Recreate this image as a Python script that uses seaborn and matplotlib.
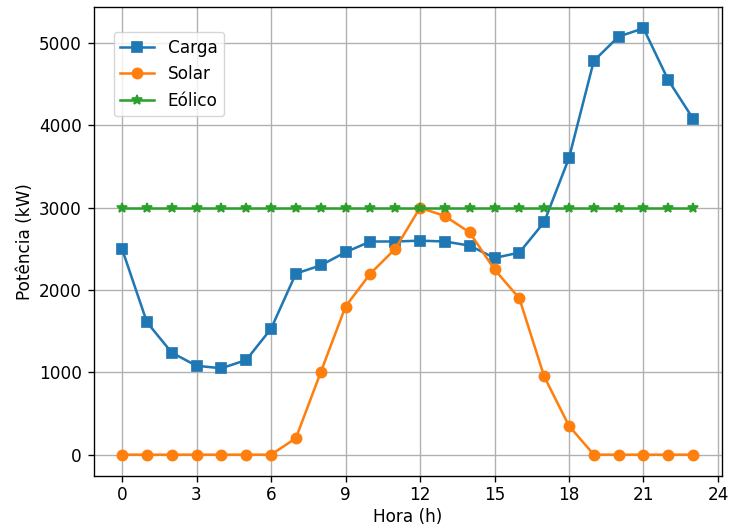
import matplotlib
matplotlib.use("Agg")
import matplotlib.pyplot as plt
import seaborn as sns
import numpy as np

horas = list(range(24))
carga = [2500, 1610, 1240, 1080, 1050, 1150, 1530, 2200, 2300, 2460, 2590, 2590,
         2600, 2590, 2540, 2390, 2455, 2825, 3605, 4785, 5080, 5180, 4550, 4080]
solar = [0, 0, 0, 0, 0, 0, 0, 200, 1000, 1800, 2200, 2500,
         3000, 2900, 2700, 2250, 1900, 950, 350, 0, 0, 0, 0, 0]
eolico = [3000] * 24
xticks = [0, 3, 6, 9, 12, 15, 18, 21, 24]

s = 1.22
fs = 10 * s
plt.rcParams.update({
    'xtick.major.size': 3.5 * s, 'ytick.major.size': 3.5 * s,
    'xtick.major.width': 0.8 * s, 'ytick.major.width': 0.8 * s,
    'axes.linewidth': 0.8 * s,
    'xtick.major.pad': 3.0, 'ytick.major.pad': 3.5 * s,
    'axes.labelpad': 3.0,
})

fig, ax = plt.subplots(figsize=(7.29, 5.29), dpi=100)
fig.subplots_adjust(left=93.5 / 729, right=721.7 / 729, top=1 - 7 / 529, bottom=1 - 476 / 529)

common = dict(markersize=6 * s, markeredgewidth=1.0 * s, linewidth=1.5 * s, ax=ax)
sns.lineplot(x=horas, y=carga, marker='s', color='#1f77b4', markeredgecolor='#1f77b4',
             label='Carga', **common)
sns.lineplot(x=horas, y=solar, marker='o', color='#ff7f0e', markeredgecolor='#ff7f0e',
             label='Solar', **common)
sns.lineplot(x=horas, y=eolico, marker='*', color='#2ca02c', markeredgecolor='#2ca02c',
             label='Eólico', **common)

ax.set_xticks(xticks)
ax.set_xlabel('Hora (h)', fontsize=fs)
ax.set_ylabel('Potência (kW)', fontsize=fs)
ax.tick_params(labelsize=fs)
ax.grid(True, color='#b0b0b0', linewidth=0.8 * s)
ax.set_axisbelow(True)
ax.legend(loc='upper left', fontsize=fs, borderaxespad=0, bbox_to_anchor=(0.032, 0.947))

fig.savefig('out.png', dpi=100)
